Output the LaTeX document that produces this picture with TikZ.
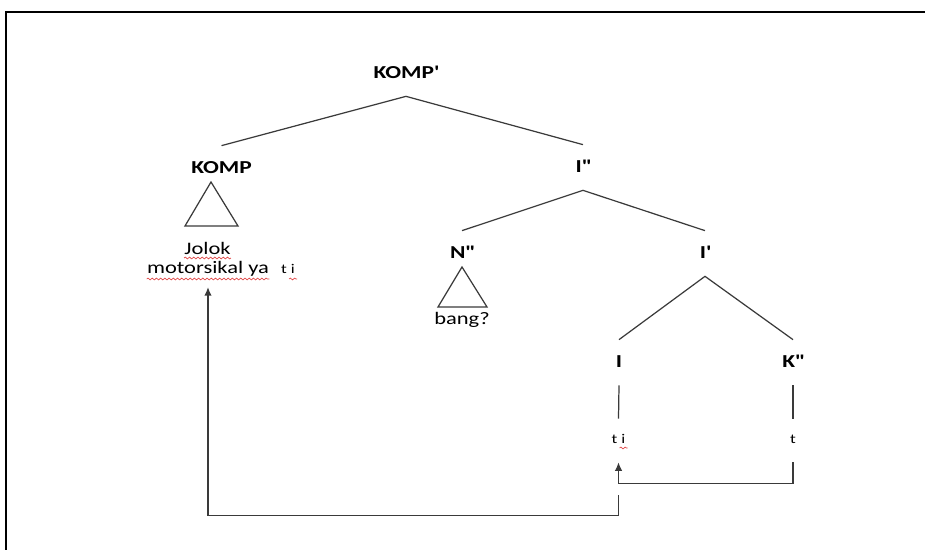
\documentclass[tikz,border=0pt]{standalone}
\usepackage{fontspec}
\setmainfont{Carlito}[FakeStretch=1.28]
\usetikzlibrary{arrows.meta,decorations.pathmorphing}
\definecolor{treegray}{HTML}{3A3A3A}
\definecolor{spellred}{HTML}{E04848}
\newcommand{\prm}{\textquotesingle}

\begin{document}
\begin{tikzpicture}[>={Latex[length=4.8pt,width=4.2pt]},
  cat/.style={font=\bfseries\fontsize{10.4}{12}\selectfont,anchor=base,inner xsep=0pt,inner ysep=0.34cm,text height=0.22cm,text depth=0pt},
  lex/.style={font=\fontsize{10}{12}\selectfont,anchor=base,inner xsep=0pt,inner ysep=0.2cm},
  trace/.style={font=\fontsize{7.6}{9}\selectfont,anchor=base,inner xsep=0pt,inner ysep=0.36cm,text height=0.14cm,text depth=0pt},
  branch/.style={treegray,line width=0.7pt},
  squiggle/.style={spellred,line width=0.4pt,decorate,decoration={snake,amplitude=0.5pt,segment length=2.4pt}}]
  \clip (0,0) rectangle (18.5,11);
  % frame
  \draw[line width=1.4pt] (0.12,-1) |- (19,10.76);

  % categories
  \node[cat] (kompbar) at (8.12,9.42) {KOMP\prm};
  \node[cat] (komp) at (4.43,7.52) {KOMP};
  \node[cat] (ibarbar) at (11.66,7.54) {I\prm\prm};
  \node[cat] (nbar) at (9.24,5.82) {N\prm\prm};
  \node[cat] (ibar) at (14.1,5.82) {I\prm};
  \node[cat] (infl) at (12.38,3.64) {I};
  \node[cat] (kbar) at (15.86,3.64) {K\prm\prm};

  % words and traces
  \node[lex] (jolok) at (4.15,5.9) {Jolok};
  \node[lex] (moved) at (4.16,5.52) {motorsikal ya};
  \node[trace] (trtop) at (5.76,5.52) {t i};
  \node[lex] (bang) at (9.24,4.5) {bang?};
  \node[trace] (trinfl) at (12.37,2.12) {t i};
  \node[trace] (trk) at (15.86,2.12) {t};

  % branches
  \draw[branch] (komp.north) -- (kompbar.south) -- (ibarbar.north);
  \draw[branch] (nbar.north) -- (ibarbar.south) -- (ibar.north);
  \draw[branch] (infl.north) -- (ibar.south) -- (kbar.north);
  \draw[branch] (infl.south) -- (trinfl.north);
  \draw[branch] (kbar.south) -- (trk.north);
  \draw[branch] ([xshift=-0.21cm,yshift=-0.16cm]komp.base) -- ++(-0.52,-0.88) -- ++(1.06,0) -- cycle;
  \draw[branch] ([yshift=-0.16cm]nbar.base) -- ++(-0.48,-0.8) -- ++(0.98,0) -- cycle;

  % movement
  \draw[branch,->] (trk.south) -- ++(0,-0.42) -| (trinfl.south);
  \draw[branch,->] ([yshift=-0.66cm]trinfl.south) -- ++(0,-0.4) -| (moved.south);

  % spelling marks
  \draw[squiggle] ([yshift=-0.06cm]jolok.base west) -- ([yshift=-0.06cm]jolok.base east);
  \draw[squiggle] ([yshift=-0.1cm]moved.base west) -- ([yshift=-0.1cm]moved.base east);
  \draw[squiggle] ([xshift=-0.12cm,yshift=-0.1cm]trtop.base east) -- ([xshift=0.04cm,yshift=-0.1cm]trtop.base east);
  \draw[squiggle] ([xshift=-0.12cm,yshift=-0.08cm]trinfl.base east) -- ([xshift=0.04cm,yshift=-0.08cm]trinfl.base east);
\end{tikzpicture}
\end{document}
